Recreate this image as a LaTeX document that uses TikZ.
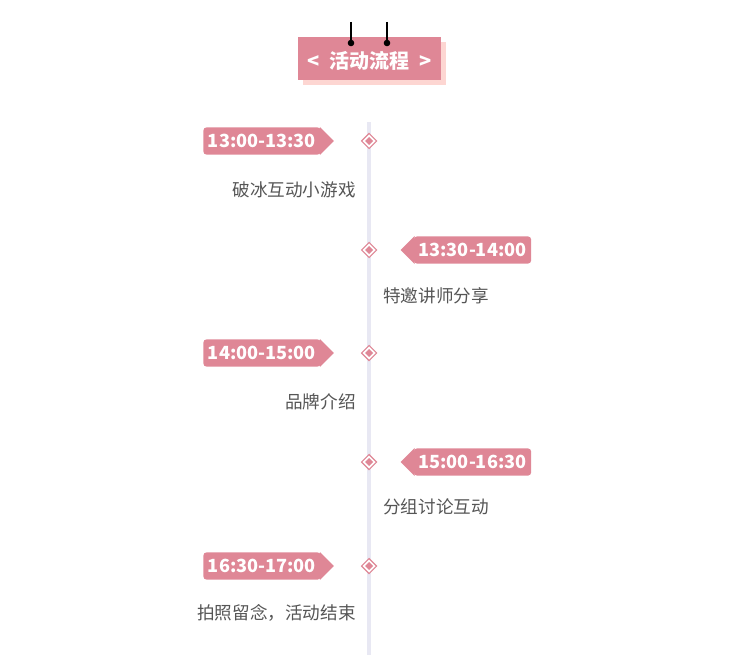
\documentclass[tikz,border=0pt]{standalone}
\usepackage{fontspec}
\setmainfont{Noto Sans CJK SC}
\usetikzlibrary{calc}
\definecolor{tagpink}{HTML}{DF8796}
\definecolor{shadowpink}{HTML}{FDD6D2}
\definecolor{axisgray}{HTML}{E8E8F3}
\definecolor{textgray}{HTML}{555555}
\begin{document}
\begin{tikzpicture}[x=0.75pt,y=-0.75pt]
\tikzstyle{every node}+=[inner sep=0pt]
\tikzstyle{tag}=[fill=tagpink,rounded corners=2.5pt,text=white,font=\fontsize{13.6}{15}\selectfont\bfseries,minimum height=20.5pt,minimum width=88pt]
\tikzstyle{desc}=[text=textgray,font=\fontsize{13.2}{15}\selectfont]
\tikzstyle{diamondmark}=[draw=tagpink,fill=white,line width=0.8pt]
\useasboundingbox (0,0) rectangle (731,670);
% title
\fill [shadowpink] (303,42) rectangle (446,85);
\fill [tagpink] (298,37) rectangle (441,80);
\node [text=white,font=\fontsize{15}{17}\selectfont\bfseries] (title) at (369.5,61) {<\enspace 活动流程\enspace >};
\draw [line width=1.6pt] (351,22) -- (351,43);
\fill (351,43) circle (3.3);
\draw [line width=1.6pt] (387,22) -- (387,43);
\fill (387,43) circle (3.3);
% axis
\draw [axisgray,line width=2.4pt] (369,122) -- (369,655);
% diamonds
\foreach \y/\n in {141/d1,250/d2,353/d3,462/d4,566/d5}{
  \coordinate (\n) at (369,\y);
  \draw [diamondmark] ($(\n)+(0,-7.5)$) -- ($(\n)+(7.5,0)$) -- ($(\n)+(0,7.5)$) -- ($(\n)+(-7.5,0)$) -- cycle;
  \fill [tagpink] ($(\n)+(0,-4)$) -- ($(\n)+(4,0)$) -- ($(\n)+(0,4)$) -- ($(\n)+(-4,0)$) -- cycle;
}
% left tags
\foreach \y/\n/\t in {141/t1/13:00-13:30,353/t3/14:00-15:00,566/t5/16:30-17:00}{
  \node [tag] (\n) at (262,\y) {\t};
  \fill [tagpink] ($(\n.north east)+(-1,0)$) -- ($(\n.east)+(13,0)$) -- ($(\n.south east)+(-1,0)$) -- cycle;
}
% right tags
\foreach \y/\n/\t in {250/t2/13:30-14:00,462/t4/15:00-16:30}{
  \node [tag] (\n) at (472.5,\y) {\t};
  \fill [tagpink] ($(\n.north west)+(1,0)$) -- ($(\n.west)+(-13,0)$) -- ($(\n.south west)+(1,0)$) -- cycle;
}
% descriptions
\node [desc,anchor=east] (e1) at (356,190) {破冰互动小游戏};
\node [desc,anchor=west] (e2) at (383,296) {特邀讲师分享};
\node [desc,anchor=east] (e3) at (356,402) {品牌介绍};
\node [desc,anchor=west] (e4) at (383,507) {分组讨论互动};
\node [desc,anchor=east] (e5) at (356,613) {拍照留念，活动结束};
\end{tikzpicture}
\end{document}
